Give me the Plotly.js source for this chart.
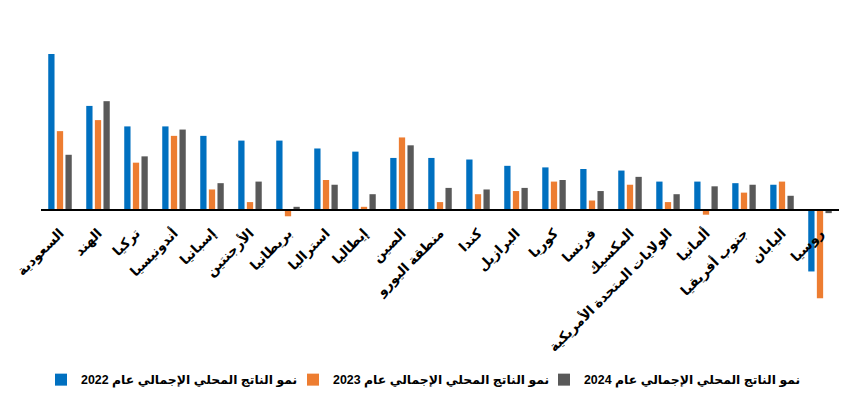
<!DOCTYPE html>
<html><head><meta charset="utf-8">
<script src="https://cdn.plot.ly/plotly-3.0.1.min.js"></script>
<style>html,body{margin:0;padding:0;background:#fff}#chart{width:860px;height:407px}</style>
</head><body><div id="chart"></div>
<script>
const countries = ["السعودية","الهند","تركيا","أندونيسيا","إسبانيا","الأرجنتين","بريطانيا","استراليا","إيطاليا","الصين","منطقة اليورو","كندا","البرازيل","كوريا","فرنسا","المكسيك","الولايات المتحدة الأمريكية","ألمانيا","جنوب أفريقيا","اليابان","روسيا"];
const g2022 = [9.9,6.6,5.3,5.3,4.7,4.4,4.4,3.9,3.7,3.3,3.3,3.2,2.8,2.7,2.6,2.5,1.8,1.8,1.7,1.6,-3.9];
const g2023 = [5.0,5.7,3.0,4.7,1.3,0.5,-0.4,1.9,0.2,4.6,0.5,1.0,1.2,1.8,0.6,1.6,0.5,-0.3,1.1,1.8,-5.6];
const g2024 = [3.5,6.9,3.4,5.1,1.7,1.8,0.2,1.6,1.0,4.1,1.4,1.3,1.4,1.9,1.2,2.1,1.0,1.5,1.6,0.9,-0.2];
const seriesNames = ["نمو الناتج المحلي الإجمالي عام 2022","نمو الناتج المحلي الإجمالي عام 2023","نمو الناتج المحلي الإجمالي عام 2024"];
const colors = ["#0070C0","#ED7D31","#595959"];

const yRange = [-5.71, 10.78];
const axisPos = (0 - yRange[0]) / (yRange[1] - yRange[0]);
const fontFam = "Liberation Sans, DejaVu Sans, sans-serif";
const legendIds = ["legend", "legend2", "legend3"];
const legendX = [0.0, 0.3158, 0.6303];

const traces = [g2022, g2023, g2024].map((vals, i) => ({
  type: "bar", x: countries, y: vals, name: seriesNames[i],
  marker: {color: colors[i]}, legend: legendIds[i], showlegend: true
}));

const layout = {
  width: 860, height: 407,
  margin: {l: 41, r: 21, t: 40, b: 107, autoexpand: false},
  paper_bgcolor: "#fff", plot_bgcolor: "#fff",
  barmode: "group", bargap: 0.32, bargroupgap: 0.27,
  showlegend: true,
  xaxis: {anchor: "free", position: axisPos, showline: true, linecolor: "#000", linewidth: 2,
    ticks: "", tickangle: -45, showgrid: false, zeroline: false, ticklabelstandoff: 9,
    tickfont: {family: fontFam, size: 13.5, color: "#000", weight: "bold"}},
  yaxis: {range: yRange, visible: false, showgrid: false, zeroline: false}
};
legendIds.forEach((id, i) => {
  layout[id] = {orientation: "h", x: legendX[i], xanchor: "left", y: -0.308, yanchor: "middle",
    bgcolor: "rgba(0,0,0,0)",
    font: {family: fontFam, size: 12.4, color: "#000", weight: "bold"}};
});

Plotly.newPlot("chart", traces, layout, {displayModeBar: false, staticPlot: true});
</script>
</body></html>
